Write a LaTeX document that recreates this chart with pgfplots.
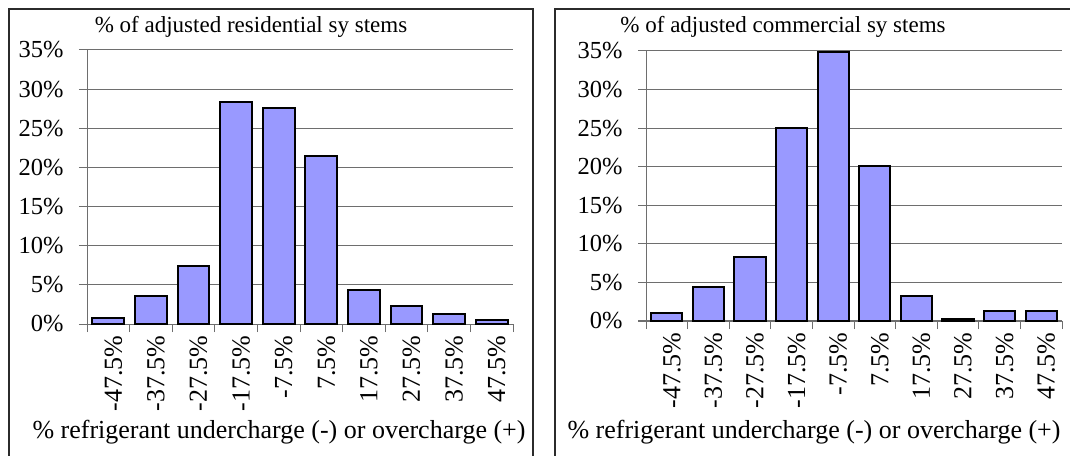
\documentclass[border=0pt]{standalone}
\usepackage{fontspec}
\setmainfont{Liberation Serif}
\usepackage{pgfplots}
\pgfplotsset{compat=1.18}
\definecolor{barfill}{HTML}{9999FF}
\definecolor{gridc}{HTML}{6E6E6E}
\definecolor{framec}{HTML}{2B2B2B}
\pgfplotsset{
  hist/.style={
    scale only axis,
    xmin=0.5, xmax=10.5, ymin=0, ymax=35,
    axis x line*=bottom, axis y line*=left,
    axis line style={gridc, line width=1pt, -},
    ytick={0,5,...,35},
    yticklabels={0\%,5\%,10\%,15\%,20\%,25\%,30\%,35\%},
    xtick={0.5,1.5,...,10.5},
    xticklabels={-47.5\%,-37.5\%,-27.5\%,-17.5\%,-7.5\%,7.5\%,17.5\%,27.5\%,37.5\%,47.5\%},
    x tick label as interval,
    tick align=outside,
    major tick length=8pt,
    tick style={gridc, line width=1pt},
    ymajorgrids, grid style={gridc, line width=1pt},
    yticklabel style={font=\fontsize{24.5}{29}\selectfont, text=black, xshift=-12pt},
    xticklabel style={font=\fontsize{26}{30}\selectfont, text=black, rotate=90, anchor=east, yshift=-5pt},
    clip=false,
  }
}
\begin{document}
\begin{tikzpicture}[x=1pt,y=1pt]
\useasboundingbox (0,0) rectangle (1070,455);
\fill[white] (0,0) rectangle (1070,455);
\draw[framec, line width=2pt] (9,-20) -- (9,446) -- (533,446) -- (533,-20);
\draw[framec, line width=2pt] (555,-20) -- (555,446) -- (1090,446);

\begin{axis}[hist, at={(87pt,131pt)}, anchor=south west, width=426pt, height=274pt]
\addplot[ybar, bar width=0.75, fill=barfill, draw=black, line width=2pt]
  coordinates {(1,0.75) (2,3.6) (3,7.4) (4,28.4) (5,27.6) (6,21.5) (7,4.35) (8,2.3) (9,1.3) (10,0.55)};
\end{axis}

\begin{axis}[hist, at={(646pt,134pt)}, anchor=south west, width=416pt, height=270pt]
\addplot[ybar, bar width=0.75, fill=barfill, draw=black, line width=2pt]
  coordinates {(1,1.05) (2,4.4) (3,8.35) (4,25.0) (5,34.9) (6,20.1) (7,3.2) (8,0.25) (9,1.3) (10,1.3)};
\end{axis}

\node[anchor=base, inner sep=0pt, font=\fontsize{23}{27}\selectfont] at (251,422) {\% of adjusted residential sy stems};
\node[anchor=base, inner sep=0pt, font=\fontsize{23}{27}\selectfont] at (783,422) {\% of adjusted commercial sy stems};
\node[anchor=base, inner sep=0pt, font=\fontsize{26}{30}\selectfont] at (279,17) {\% refrigerant undercharge (-) or overcharge (+)};
\node[anchor=base, inner sep=0pt, font=\fontsize{26}{30}\selectfont] at (814,17) {\% refrigerant undercharge (-) or overcharge (+)};
\end{tikzpicture}
\end{document}
